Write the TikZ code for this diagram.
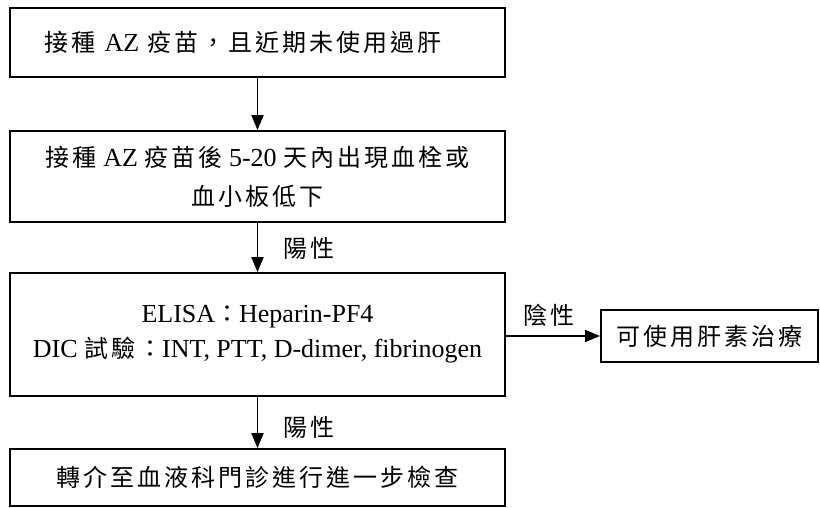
\documentclass[tikz,border=0pt]{standalone}
\usepackage{fontspec}
\setmainfont{Liberation Serif}
\newfontfamily\cjk{Noto Sans CJK TC}[LetterSpace=12.5,Scale=0.923]
\newcommand{\zh}[1]{{\cjk #1}}
\usetikzlibrary{arrows.meta}
\begin{document}
\begin{tikzpicture}[x=1pt,y=-1pt,
  box/.style={draw=black,line width=1.8pt,rectangle,minimum width=495pt,inner sep=0pt,align=center,font=\fontsize{26}{39}\selectfont},
  arr/.style={line width=1.8pt,-{Triangle[length=15pt,width=12pt]}},
  lbl/.style={inner sep=0pt,anchor=west,font=\fontsize{26}{30}\selectfont}]
\useasboundingbox (0,0) rectangle (820,507);
\node[box,minimum height=69pt,text width=425pt,inner xsep=35pt,align=left] (b1) at (257.5,42.5) {\zh{接種} AZ \zh{疫苗，且近期未使用過肝}};
\node[box,minimum height=91pt] (b2) at (257.5,176.5) {\zh{接種} AZ \zh{疫苗後} 5-20 \zh{天內出現血栓或}\\\zh{血小板低下}};
\node[box,minimum height=123pt,font=\fontsize{26}{35}\selectfont] (b3) at (257.5,334.5) {ELISA\zh{：}Heparin-PF4\\DIC \zh{試驗：}INT, PTT, D-dimer, fibrinogen};
\node[box,minimum width=217pt,minimum height=52pt] (b4) at (709.5,336) {\zh{可使用肝素治療}};
\node[box,minimum height=57pt] (b5) at (257.5,477.5) {\zh{轉介至血液科門診進行進一步檢查}};
\draw[arr] (b1.south) -- (b2.north);
\draw[arr] (b2.south) -- (b3.north);
\draw[arr] (b3.south) -- (b5.north);
\draw[arr] (b3.east |- b4.west) -- (b4.west);
\node[lbl] (l1) at (283,248) {\zh{陽性}};
\node[lbl] (l2) at (283,427) {\zh{陽性}};
\node[lbl] (l3) at (523,315) {\zh{陰性}};
\end{tikzpicture}
\end{document}
